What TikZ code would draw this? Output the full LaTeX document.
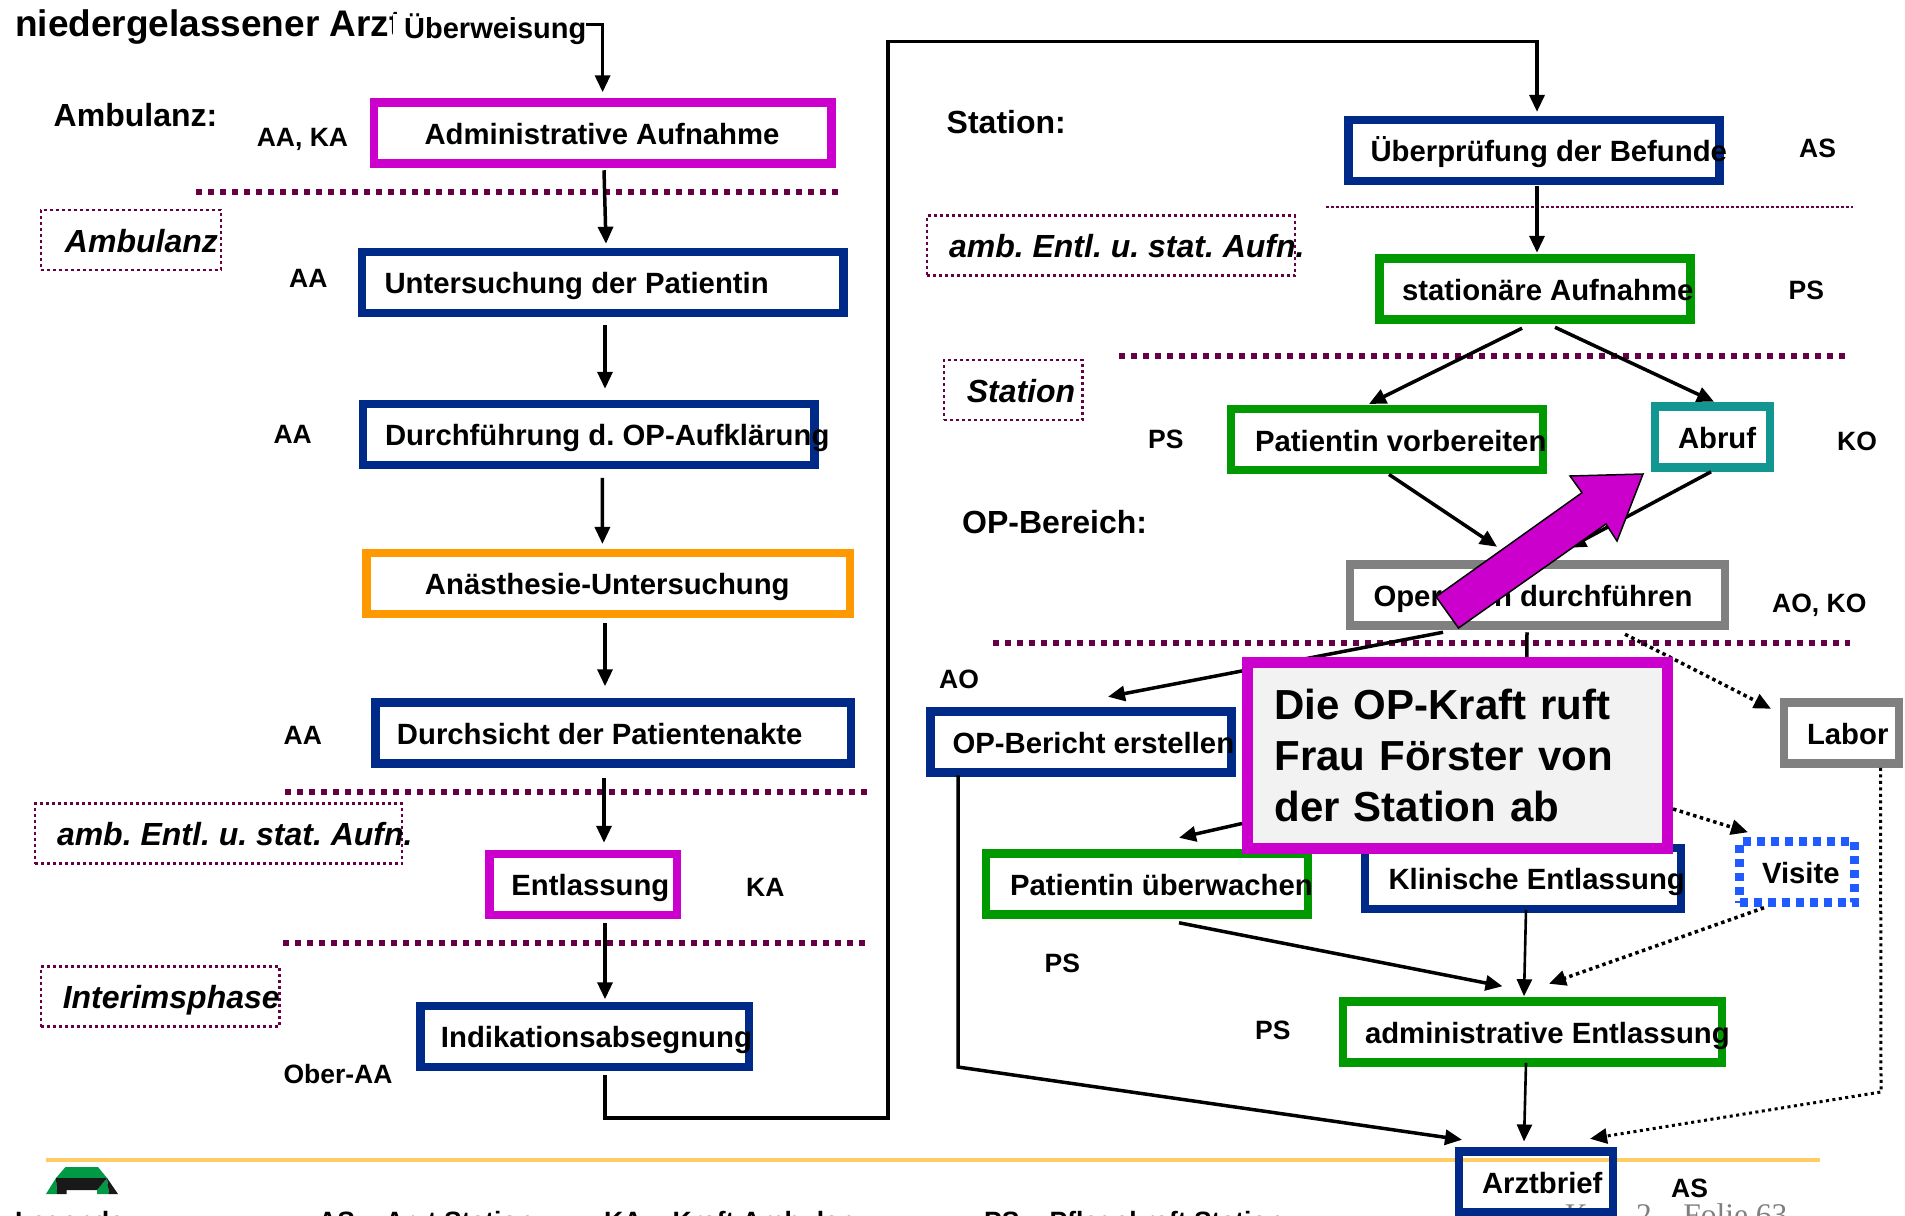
\documentclass[tikz,border=0pt]{standalone}
\usepackage{fontspec}
\setmainfont{Liberation Sans}
\usetikzlibrary{arrows.meta}

\definecolor{kmagenta}{HTML}{CC00CC}
\definecolor{kblue}{HTML}{002A88}
\definecolor{kgreen}{HTML}{009900}
\definecolor{korange}{HTML}{FF9900}
\definecolor{kteal}{HTML}{129692}
\definecolor{kgray}{HTML}{808080}
\definecolor{kmaroon}{HTML}{660044}
\definecolor{kvisite}{HTML}{1F5BFF}
\definecolor{kfooter}{HTML}{FFCC66}
\definecolor{klogo}{HTML}{009944}

\newcommand{\lbl}[2]{\hspace*{#1pt}\mbox{\spaceskip=0pt\frenchspacing\rule[-.2em]{0pt}{1.18em}#2}}

\tikzset{
    flowbox/.style={draw=#1, line width=8.5pt, inner xsep=0pt, inner ysep=0pt, minimum height=61pt, align=left,
        font=\fontsize{29.3}{35}\selectfont\bfseries},
    zonebox/.style={draw=kmaroon, line width=2.5pt, dash pattern=on 3pt off 3pt, inner xsep=0pt, inner ysep=0pt,
        minimum height=60pt, align=left, font=\fontsize{32}{38}\selectfont\bfseries\itshape},
    rolle/.style={anchor=base west, inner sep=0pt, font=\fontsize{26.5}{31}\selectfont\bfseries},
    bereich/.style={anchor=base west, inner sep=0pt, font=\fontsize{32}{38}\selectfont\bfseries},
    flow/.style={->, line width=3.5pt},
    flowthin/.style={->, line width=2.6pt},
    flowdot/.style={->, line width=3.5pt, dash pattern=on 3.5pt off 3.5pt},
    sep/.style={kmaroon, line width=6.5pt, dash pattern=on 6pt off 6pt},
}

\begin{document}
\begin{tikzpicture}[>={Stealth[length=17pt,width=15pt,inset=0pt]}, x=1pt, y=-1pt]
    \useasboundingbox (0, 0) rectangle (1905, 1215);

    % Separators between the areas
    \draw[sep] (196, 192) -- (838, 192);
    \draw[sep] (285, 792) -- (869, 792);
    \draw[sep] (283, 943) -- (865, 943);
    \draw[kmaroon, line width=2pt, dash pattern=on 2.5pt off 2.5pt] (1326, 206.5) -- (1853, 206.5);
    \draw[sep] (1119, 356) -- (1847, 356);
    \draw[sep] (993, 643) -- (1850, 643);

    % Footer
    \draw[kfooter, line width=3.5pt] (46, 1160) -- (1820, 1160);
    \fill[klogo] (65.5, 1167) -- (98, 1167) -- (107, 1178) -- (56, 1178) -- cycle;
    \fill[klogo] (46, 1194) -- (56, 1178) -- (57, 1194) -- cycle;
    \fill[klogo] (97, 1194) -- (97, 1190) -- (107, 1178) -- (109, 1194) -- cycle;
    \fill[black!90] (56, 1178) -- (107, 1178) -- (97, 1190) -- (66.7, 1190) -- (66.7, 1194) -- (57, 1194) -- cycle;
    \fill[black!90] (107, 1178) -- (118, 1194) -- (109, 1194) -- cycle;
    \node[rolle] (legende) at (15, 1230.5) {Legende:};
    \node[rolle] (legas) at (318, 1230.5) {AS = Arzt Station};
    \node[rolle] (legka) at (604, 1230.5) {KA = Kraft Ambulanz};
    \node[rolle] (legps) at (984, 1230.5) {PS = Pflegekraft Station};
    \node[anchor=base west, inner sep=0pt, text=kgray, font=\fontsize{31.5}{36}\selectfont\fontspec{Liberation Serif}] (folie) at (1565, 1225.5) {Kap. 2 – Folie 63};

    % Head of the left column
    \node[anchor=base west, inner sep=0pt, font=\fontsize{37}{42}\selectfont\bfseries] (arzt) at (15, 37) {niedergelassener Arzt};
    \node[anchor=base west, inner sep=0pt, fill=white, font=\fontsize{29}{35}\selectfont\bfseries] (ueberw) at (393, 39) {\hspace*{11pt}Überweisung};

    % Area names
    \node[bereich] (ambul) at (53.5, 126) {Ambulanz:};
    \node[bereich] (station) at (946.5, 133.5) {Station:};
    \node[bereich] (opber) at (962, 533) {OP-Bereich:};

    % Dotted phase boxes
    \node[zonebox, text width=180pt] (zamb) at (131, 240) {\lbl{24}{Ambulanz}};
    \node[zonebox, text width=367pt] (zentla) at (218.5, 833.5) {\lbl{22}{amb. Entl. u. stat. Aufn.}};
    \node[zonebox, text width=238.5pt] (zint) at (160, 996.5) {\lbl{22}{Interimsphase}};
    \node[zonebox, text width=368pt] (zentlb) at (1111, 245.5) {\lbl{22}{amb. Entl. u. stat. Aufn.}};
    \node[zonebox, text width=138.5pt] (zstat) at (1013, 390) {\lbl{23}{Station}};

    % Steps of the left column
    \node[flowbox=kmagenta, text width=457.5pt] (admauf) at (602.6, 133) {\lbl{50.7}{Administrative Aufnahme}};
    \node[flowbox=kblue, text width=481.5pt] (unters) at (602.6, 282.5) {\lbl{22.7}{Untersuchung der Patientin}};
    \node[flowbox=kblue, text width=451.5pt] (aufkl) at (588.6, 434.5) {\lbl{22.2}{Durchführung d. OP-Aufklärung}};
    \node[flowbox=korange, text width=483.5pt] (anaesth) at (608, 583.7) {\lbl{58.7}{Anästhesie-Untersuchung}};
    \node[flowbox=kblue, text width=475.5pt] (akte) at (613, 733) {\lbl{21.7}{Durchsicht der Patientenakte}};
    \node[flowbox=kmagenta, text width=187.5pt] (entl) at (583, 884.5) {\lbl{22.2}{Entlassung}};
    \node[flowbox=kblue, text width=328.5pt] (indik) at (584.5, 1036.5) {\lbl{20.7}{Indikationsabsegnung}};

    % Steps of the right column
    \node[flowbox=kblue, text width=371pt] (pruef) at (1534, 150.6) {\lbl{22}{Überprüfung der Befunde}};
    \node[flowbox=kgreen, text width=311pt] (stat) at (1535, 289) {\lbl{22.5}{stationäre Aufnahme}};
    \node[flowbox=kgreen, text width=312pt] (patvorb) at (1387, 439.7) {\lbl{24}{Patientin vorbereiten}};
    \node[flowbox=kteal, text width=115pt] (abruf) at (1712.5, 437) {\lbl{23}{Abruf}};
    \node[flowbox=kgray, text width=375pt] (op) at (1537.5, 595) {\lbl{23.5}{Operation durchführen}};
    \node[flowbox=kblue, text width=301pt] (bericht) at (1081, 742) {\lbl{22}{OP-Bericht erstellen}};
    \node[flowbox=kgray, text width=115pt] (labor) at (1841.5, 733) {\lbl{23}{Labor}};
    \node[flowbox=kgreen, text width=322pt] (patueb) at (1147, 884) {\lbl{24}{Patientin überwachen}};
    \node[flowbox=kblue, text width=316pt] (klin) at (1523, 878.5) {\lbl{23.5}{Klinische Entlassung}};
    \node[flowbox=kvisite, dash pattern=on 8pt off 6pt, text width=115pt] (visite) at (1797, 872) {\lbl{22.5}{Visite}};
    \node[flowbox=kgreen, text width=379pt] (admentl) at (1532.5, 1032) {\lbl{22}{administrative Entlassung}};
    \node[flowbox=kblue, text width=154pt] (brief) at (1536, 1182) {\lbl{23}{Arztbrief}};

    % Roles
    \node[rolle] (raakaa) at (256.6, 146.7) {AA, KA};
    \node[rolle] (raa) at (289, 287.7) {AA};
    \node[rolle] (raab) at (273.4, 443.5) {AA};
    \node[rolle] (raac) at (283.5, 744) {AA};
    \node[rolle] (rka) at (746, 896.7) {KA};
    \node[rolle] (rober) at (283.3, 1083) {Ober-AA};
    \node[rolle] (ras) at (1799, 157) {AS};
    \node[rolle] (rps) at (1788.5, 299) {PS};
    \node[rolle] (rpsb) at (1148, 448) {PS};
    \node[rolle] (rko) at (1837, 450.7) {KO};
    \node[rolle] (raoko) at (1772, 612) {AO, KO};
    \node[rolle] (rao) at (939, 688) {AO};
    \node[rolle] (rpsc) at (1044.5, 972) {PS};
    \node[rolle] (rpsd) at (1255, 1039) {PS};
    \node[rolle] (rasb) at (1671, 1197) {AS};

    % Bends
    \coordinate (loopa) at (888, 1118);
    \coordinate (loopb) at (888, 41.5);
    \coordinate (berknick) at (958, 1067);
    \coordinate (labknick) at (1881, 1092);

    % Connectors of the left column
    \draw[flow] ([yshift=5pt]ueberw.east) -| ([yshift=6pt]admauf.north);
    \draw[flow] ([xshift=1.4pt,yshift=-2.5pt]admauf.south) -- ([xshift=3.4pt,yshift=4pt]unters.north);
    \draw[flow] ([xshift=2.4pt,yshift=-8pt]unters.south) -- ([xshift=16.4pt,yshift=11pt]aufkl.north);
    \draw[flow] ([xshift=13.8pt,yshift=-8.5pt]aufkl.south) -- ([xshift=-5.6pt,yshift=5pt]anaesth.north);
    \draw[flow] ([xshift=-3pt,yshift=-5pt]anaesth.south) -- ([xshift=-8pt,yshift=12pt]akte.north);
    \draw[flow] ([xshift=-9pt,yshift=-10.5pt]akte.south) -- ([xshift=21pt,yshift=7pt]entl.north);
    \draw[flow] ([xshift=22pt,yshift=-4pt]entl.south) -- ([xshift=20.5pt,yshift=2.5pt]indik.north);
    \draw[flow] ([xshift=20.5pt,yshift=-3.5pt]indik.south) |- (loopa) -- (loopb) -| ([xshift=3pt,yshift=4pt]pruef.north);

    % Connectors of the right column
    \draw[flow] ([xshift=3pt,yshift=-1pt]pruef.south) -- ([xshift=2pt,yshift=1.5pt]stat.north);
    \draw[flow] ([xshift=-13pt,yshift=-4.5pt]stat.south) -- ([xshift=-18pt,yshift=1pt]patvorb.north);
    \draw[flow] ([xshift=20pt,yshift=-3.5pt]stat.south) -- ([xshift=1.5pt,yshift=.5pt]abruf.north);
    \draw[flow] ([xshift=2pt]patvorb.south) -- ([xshift=-40.5pt,yshift=13.5pt]op.north);
    \draw[flow] ([xshift=-1.5pt]abruf.south) -- ([xshift=31.5pt,yshift=12.5pt]op.north);
    \draw[flow] ([xshift=-94.5pt,yshift=-2.5pt]op.south) -- ([xshift=27pt,yshift=10.5pt]bericht.north);
    \draw[flow] ([xshift=-10.5pt,yshift=-2.5pt]op.south) -- ([xshift=2pt,yshift=4.5pt]klin.north);
    \draw[flowdot] ([xshift=87.5pt,yshift=-4.5pt]op.south) -- ([xshift=-70.5pt,yshift=-10.5pt]labor.north);
    \draw[flow] ([xshift=32pt,yshift=-4pt]patueb.south) -- ([xshift=-30pt,yshift=11pt]admentl.north);
    \draw[flowthin] ([xshift=3pt,yshift=3.5pt]klin.south) -- ([xshift=-8.5pt,yshift=1pt]admentl.north);
    \draw[flowdot] ([xshift=-33pt,yshift=-1pt]visite.south) -- ([xshift=16.5pt,yshift=13.5pt]admentl.north);
    \draw[flowthin] ([xshift=-6.5pt,yshift=3.8pt]admentl.south) -- ([xshift=-12pt,yshift=5.8pt]brief.north);
    \draw[flow] ([xshift=-123pt,yshift=1.5pt]bericht.south) -- (berknick) -- ([xshift=-74pt,yshift=7.5pt]brief.north);
    \draw[->, line width=3pt, dash pattern=on 3pt off 3.5pt] ([xshift=39pt]labor.south) -- (labknick) -- ([xshift=54pt,yshift=8.5pt]brief.north);

    % Callout on top
    \node[draw=kmagenta, fill=black!5, line width=11pt, inner xsep=27pt, inner ysep=0pt, text width=366pt, minimum height=186pt,
        align=left, font=\fontsize{42}{51}\selectfont\bfseries] (kraft) at (1457.5, 755.5) {Die OP-Kraft ruft\\Frau Förster von\\der Station ab};
    \draw[flow] ([yshift=-68pt]kraft.west) -- ([xshift=32pt,yshift=11.5pt]patueb.north);
    \draw[flowdot] ([yshift=-53.5pt]kraft.east) -- ([xshift=-49pt,yshift=5pt]visite.north);

    % Block arrow
    \draw[fill=kmagenta, line width=1.5pt] (1643, 474) -- (1570, 476) -- (1582, 492.7) -- (1436, 596.7) -- (1458.5, 628)
        -- (1606, 524) -- (1617, 541) -- cycle;
\end{tikzpicture}
\end{document}
